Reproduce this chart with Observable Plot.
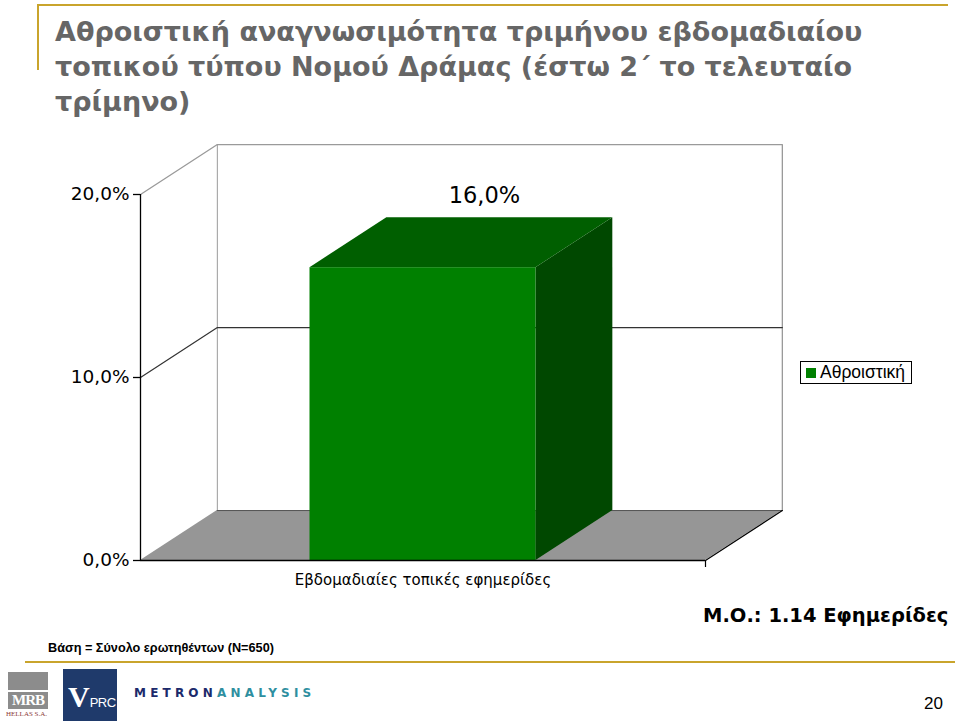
<!DOCTYPE html>
<html><head><meta charset="utf-8">
<script src="https://cdn.jsdelivr.net/npm/d3@7"></script>
<script src="https://cdn.jsdelivr.net/npm/@observablehq/plot@0.6"></script>
<style>
html,body{margin:0;padding:0;background:#fff;}
#page{position:relative;width:960px;height:723px;overflow:hidden;background:#fff;}
#title{position:absolute;left:55px;top:14px;width:900px;font-family:"DejaVu Sans",Verdana,sans-serif;font-weight:bold;font-size:27px;line-height:35px;color:#666;white-space:nowrap;}
#chart{position:absolute;left:0;top:130px;}
.gold{position:absolute;background:#c9a42c;}
#legend{position:absolute;left:800px;top:361px;width:112px;height:23px;border:1px solid #000;font-family:"Liberation Sans",Arial,sans-serif;font-size:17.5px;line-height:21px;box-sizing:border-box;padding-left:5px;white-space:nowrap;}
#legend span.sw{display:inline-block;width:10px;height:10px;background:#008000;margin-right:4px;vertical-align:0px;}
#base{position:absolute;left:48px;top:641px;font-family:"Liberation Sans",Arial,sans-serif;font-weight:bold;font-size:12.7px;}
#mo{position:absolute;left:703px;top:604px;font-family:"DejaVu Sans",Verdana,sans-serif;font-weight:bold;font-size:19.5px;}
#pg{position:absolute;left:924px;top:694px;font-family:"Liberation Sans",Arial,sans-serif;font-size:17px;}
</style></head>
<body><div id="page">
<div class="gold" style="left:37px;top:4px;width:911px;height:2px"></div>
<div class="gold" style="left:37px;top:4px;width:2px;height:66px"></div>
<div id="title">Αθροιστική αναγνωσιμότητα τριμήνου εβδομαδιαίου<br>τοπικού τύπου Νομού Δράμας (έστω 2΄ το τελευταίο<br>τρίμηνο)</div>
<div id="chart"></div>
<div id="legend"><span class="sw"></span>Αθροιστική</div>
<div id="mo">Μ.Ο.: 1.14 Εφημερίδες</div>
<div id="base">Βάση = Σύνολο ερωτηθέντων (N=650)</div>
<div class="gold" style="left:25px;top:661px;width:930px;height:2px"></div>
<!-- logos -->
<div style="position:absolute;left:8px;top:672px;width:40px;height:18px;background:#8c8c8c"></div>
<div style="position:absolute;left:8px;top:692px;width:40px;height:17px;background:#8c8c8c;color:#fff;font-family:'Liberation Serif',serif;font-weight:bold;font-size:15px;line-height:17px;text-align:center;letter-spacing:-1px">MRB</div>
<div style="position:absolute;left:6px;top:710px;font-family:'Liberation Serif',serif;font-size:7px;color:#8c3a3a">HELLAS S.A.</div>
<div style="position:absolute;left:63px;top:669px;width:54px;height:52px;background:#1f3a6b;color:#fff;font-family:'Liberation Serif',serif;font-weight:bold;font-size:30px;line-height:56px;padding-left:5px;box-sizing:border-box;white-space:nowrap;overflow:hidden">V<span style="font-family:'Liberation Sans Narrow','Liberation Sans',sans-serif;font-weight:normal;font-size:13px;letter-spacing:-0.5px">PRC</span></div>
<div style="position:absolute;left:134px;top:686px;font-family:'DejaVu Sans',sans-serif;font-size:12px;letter-spacing:4.2px;color:#1c2a6b;font-weight:bold">METRON<span style="color:#2e8fa0">ANALYSIS</span></div>
<div id="pg">20</div>
</div>
<script>
// ---- data ----
const categories = ["Εβδομαδιαίες τοπικές εφημερίδες"];
const values = [0.16];
const seriesName = "Αθροιστική";
const yTicks = [0, 0.1, 0.2];
const valueLabels = ["16,0%"];

// ---- 3D projection constants (in scale units) ----
const dxu = 0.136;   // depth shift along x (fraction of category width)
const dyu = 0.0273;  // depth shift along y (value units)
const yMax = 0.2;
const n = categories.length;
const barHalf = 0.2;

const fmt = d => (d * 100).toFixed(1).replace(".", ",") + "%";

const bars = categories.map((c, i) => ({c, i, v: values[i], label: valueLabels[i]}));

const floor = [{y: 0, x1: 0, x2: n}, {y: dyu, x1: dxu, x2: n + dxu}];
const backLeft = [{x: dxu, y: dyu}, {x: dxu, y: yMax + dyu}];
const backTop = [{x: 0, y: yMax}, {x: dxu, y: yMax + dyu}, {x: n + dxu, y: yMax + dyu}, {x: n + dxu, y: dyu}];
const grid10 = yTicks.filter(t => t > 0 && t < yMax).map(t => [{x: 0, y: t}, {x: dxu, y: t + dyu}, {x: n + dxu, y: t + dyu}]);
const floorBack = [{x: dxu, y: dyu}, {x: n + dxu, y: dyu}];
const floorRight = [{x: n, y: 0}, {x: n + dxu, y: dyu}];

const marks = [
  Plot.areaX(floor, {y: "y", x1: "x1", x2: "x2", fill: "#969696", curve: "linear"}),
  Plot.line(backLeft, {x: "x", y: "y", stroke: "#9a9a9a", strokeWidth: 1}),
  Plot.line(backTop, {x: "x", y: "y", stroke: "#9a9a9a", strokeWidth: 1.3}),
  ...grid10.map(g => Plot.line(g, {x: "x", y: "y", stroke: "#333", strokeWidth: 1.2})),
  Plot.line(floorBack, {x: "x", y: "y", stroke: "#555", strokeWidth: 1}),
  Plot.line(floorRight, {x: "x", y: "y", stroke: "#000", strokeWidth: 1.2}),
];
bars.forEach(b => {
  const x1 = b.i + 0.5 - barHalf, x2 = b.i + 0.5 + barHalf;
  marks.push(
    Plot.areaY([{x: x2, y1: 0, y2: b.v}, {x: x2 + dxu, y1: dyu, y2: b.v + dyu}], {x: "x", y1: "y1", y2: "y2", fill: "#004800"}),
    Plot.areaX([{y: b.v, x1, x2}, {y: b.v + dyu, x1: x1 + dxu, x2: x2 + dxu}], {y: "y", x1: "x1", x2: "x2", fill: "#005f00"}),
    Plot.rectY([b], {x1: () => x1, x2: () => x2, y1: 0, y2: "v", fill: "#008000"})
  );
});
marks.push(
  Plot.ruleX([0], {y1: 0, y2: yMax, stroke: "#000", strokeWidth: 1.3}),
  Plot.ruleY([0], {x1: 0, x2: n, stroke: "#000", strokeWidth: 1.3}),
  Plot.axisY({ticks: yTicks, tickFormat: fmt, tickSize: 7, tickPadding: 4, fontSize: 18.5, stroke: "#000", strokeWidth: 1.3, color: "#000"}),
  Plot.axisX({ticks: d3.range(1, n + 1), tickFormat: () => "", tickSize: 7, stroke: "#000", strokeWidth: 1.2}),
  Plot.text(bars, {x: d => d.i + 0.5, y: 0, text: "c", dy: 20, fontSize: 15, fill: "#000"}),
  Plot.text(bars, {x: d => d.i + 0.5 + dxu * 0.8, y: d => d.v + dyu, text: "label", dy: -22, fontSize: 22.5, fill: "#000"})
);

const plot = Plot.plot({
  width: 960,
  height: 470,
  marginLeft: 140,
  marginRight: 255,
  marginTop: 64,
  marginBottom: 40,
  x: {type: "linear", domain: [0, n], axis: null},
  y: {domain: [0, yMax], axis: null},
  style: {fontFamily: "DejaVu Sans, Verdana, sans-serif", background: "transparent", overflow: "visible"},
  marks
});
document.getElementById("chart").appendChild(plot);
</script>
</body></html>
